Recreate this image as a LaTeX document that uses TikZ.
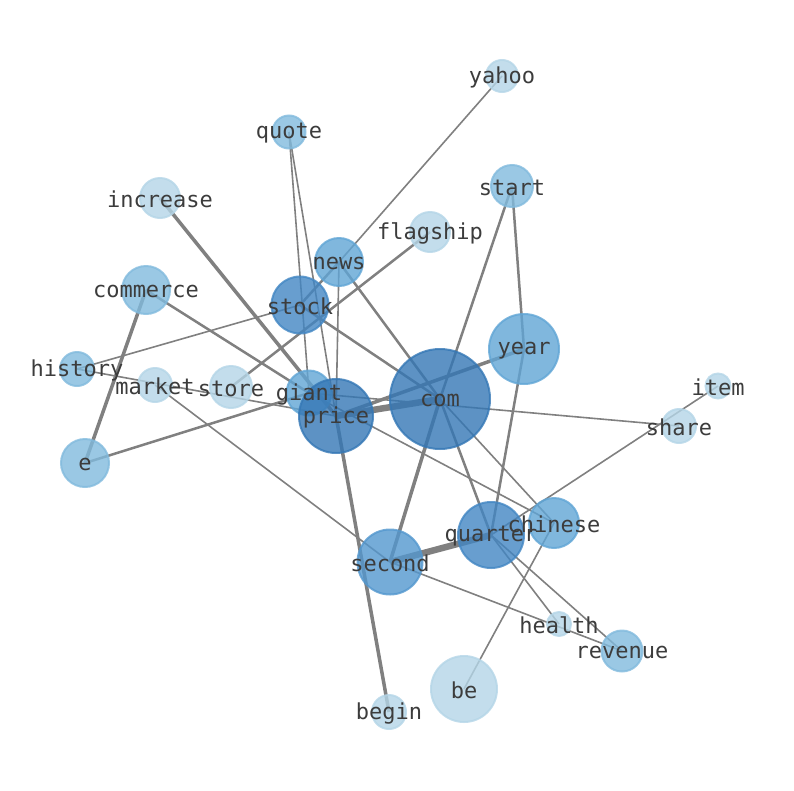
\documentclass[tikz,border=0pt]{standalone}
\usepackage{fontspec}
\setmonofont{DejaVu Sans Mono}
\usetikzlibrary{backgrounds}
\definecolor{blueA}{RGB}{52,119,181}
\definecolor{blueB}{RGB}{66,134,195}
\definecolor{blueC}{RGB}{83,151,206}
\definecolor{blueD}{RGB}{96,165,213}
\definecolor{blueE}{RGB}{129,186,221}
\definecolor{blueF}{RGB}{180,213,231}
\definecolor{wordgray}{RGB}{60,60,60}
\definecolor{linkgray}{RGB}{128,128,128}
\tikzset{
  bub/.style 2 args={circle, inner sep=0pt, minimum size=#2, fill=#1, draw=#1, line width=2pt, opacity=0.8},
  word/.style={font=\ttfamily\fontsize{22}{26}\selectfont, text=wordgray, inner sep=0pt, yshift=-1.5pt},
  link/.style={draw=linkgray, line width=1.6pt},
  link2/.style={draw=linkgray, line width=2.5pt},
  link3/.style={draw=linkgray, line width=3.5pt},
  link4/.style={draw=linkgray, line width=6.5pt}
}
\begin{document}
\begin{tikzpicture}[x=1pt, y=-1pt]
        \useasboundingbox (0,0) rectangle (794,790);

        \node[bub={blueF}{32}] (yahoo) at (502,76) {};
        \node[bub={blueE}{33}] (quote) at (289,132) {};
        \node[bub={blueE}{42}] (start) at (512,186) {};
        \node[bub={blueF}{40}] (increase) at (160,198) {};
        \node[bub={blueF}{40}] (flagship) at (430,232) {};
        \node[bub={blueD}{48}] (news) at (339,262) {};
        \node[bub={blueE}{48}] (commerce) at (146,290) {};
        \node[bub={blueB}{57}] (stock) at (300,305) {};
        \node[bub={blueD}{70}] (year) at (524,349) {};
        \node[bub={blueE}{34}] (history) at (77,369) {};
        \node[bub={blueF}{34}] (market) at (155,385) {};
        \node[bub={blueF}{42}] (store) at (231,387) {};
        \node[bub={blueD}{45}] (giant) at (309,393) {};
        \node[bub={blueA}{74}] (price) at (336,416) {};
        \node[bub={blueA}{100}] (com) at (440,399) {};
        \node[bub={blueF}{25}] (item) at (718,386) {};
        \node[bub={blueF}{34}] (share) at (679,426) {};
        \node[bub={blueE}{48}] (e) at (85,463) {};
        \node[bub={blueD}{50}] (chinese) at (554,523) {};
        \node[bub={blueB}{66}] (quarter) at (491,535) {};
        \node[bub={blueC}{65}] (second) at (390,562) {};
        \node[bub={blueF}{24}] (health) at (559,624) {};
        \node[bub={blueE}{41}] (revenue) at (622,651) {};
        \node[bub={blueF}{66}] (be) at (464,689) {};
        \node[bub={blueF}{34}] (begin) at (389,712) {};

        \begin{scope}[on background layer]
        \draw[link4] (com.center)--(price.center);
        \draw[link4] (quarter.center)--(second.center);
        \draw[link3] (price.center)--(year.center);
        \draw[link3] (increase.center)--(price.center);
        \draw[link3] (price.center)--(begin.center);
        \draw[link3] (com.center)--(second.center);
        \draw[link3] (commerce.center)--(e.center);
        \draw[link2] (e.center)--(giant.center);
        \draw[link2] (start.center)--(com.center);
        \draw[link2] (start.center)--(year.center);
        \draw[link2] (year.center)--(quarter.center);
        \draw[link2] (com.center)--(quarter.center);
        \draw[link2] (commerce.center)--(giant.center);
        \draw[link2] (stock.center)--(com.center);
        \draw[link2] (news.center)--(com.center);
        \draw[link2] (store.center)--(flagship.center);
        \draw[link2] (news.center)--(stock.center);
        \draw[link] (yahoo.center)--(news.center);
        \draw[link] (quote.center)--(giant.center);
        \draw[link] (quote.center)--(price.center);
        \draw[link] (news.center)--(price.center);
        \draw[link] (history.center)--(stock.center);
        \draw[link] (history.center)--(price.center);
        \draw[link] (market.center)--(second.center);
        \draw[link] (giant.center)--(share.center);
        \draw[link] (item.center)--(quarter.center);
        \draw[link] (com.center)--(chinese.center);
        \draw[link] (giant.center)--(chinese.center);
        \draw[link] (quarter.center)--(health.center);
        \draw[link] (quarter.center)--(revenue.center);
        \draw[link] (second.center)--(revenue.center);
        \draw[link] (be.center)--(chinese.center);
        \end{scope}

        % words on top of the bubbles
        \node[word] (lyahoo) at (yahoo) {yahoo};
        \node[word] (lquote) at (quote) {quote};
        \node[word] (lstart) at (start) {start};
        \node[word] (lincrease) at (increase) {increase};
        \node[word] (lflagship) at (flagship) {flagship};
        \node[word] (lnews) at (news) {news};
        \node[word] (lcommerce) at (commerce) {commerce};
        \node[word] (lstock) at (stock) {stock};
        \node[word] (lyear) at (year) {year};
        \node[word] (lhistory) at (history) {history};
        \node[word] (lmarket) at (market) {market};
        \node[word] (lstore) at (store) {store};
        \node[word] (lgiant) at (giant) {giant};
        \node[word] (lprice) at (price) {price};
        \node[word] (lcom) at (com) {com};
        \node[word] (litem) at (item) {item};
        \node[word] (lshare) at (share) {share};
        \node[word] (le) at (e) {e};
        \node[word] (lchinese) at (chinese) {chinese};
        \node[word] (lquarter) at (quarter) {quarter};
        \node[word] (lsecond) at (second) {second};
        \node[word] (lhealth) at (health) {health};
        \node[word] (lrevenue) at (revenue) {revenue};
        \node[word] (lbe) at (be) {be};
        \node[word] (lbegin) at (begin) {begin};
\end{tikzpicture}
\end{document}
